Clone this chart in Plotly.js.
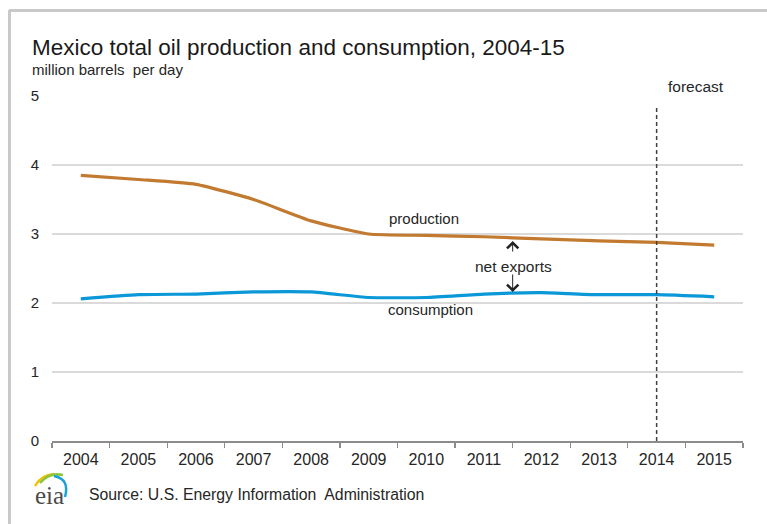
<!DOCTYPE html>
<html>
<head>
<meta charset="utf-8">
<script src="https://cdn.plot.ly/plotly-3.0.1.min.js"></script>
<style>html,body{margin:0;padding:0;background:#fff;}#chart{width:767px;height:524px;}</style>
</head>
<body>
<div id="chart"></div>
<script>
// ---- data ----
const years = ['2004','2005','2006','2007','2008','2009','2010','2011','2012','2013','2014','2015'];
const production = [3.85, 3.79, 3.72, 3.50, 3.19, 3.00, 2.98, 2.96, 2.93, 2.90, 2.88, 2.84];
const consumption = [2.06, 2.12, 2.13, 2.16, 2.16, 2.08, 2.08, 2.13, 2.15, 2.12, 2.12, 2.09];
const yTicks = [0, 1, 2, 3, 4, 5];
const forecastStart = '2014';

// ---- geometry helpers (pixels -> paper) ----
const W = 767, H = 524, ML = 52, MR = 24, MT = 96, MB = 83;
const PW = W - ML - MR, PH = H - MT - MB;
const px = x => (x - ML) / PW;
const py = y => (H - MB - y) / PH;
const FONT = 'Arial, "Liberation Sans", sans-serif';
const TXT = '#262626';

const traces = [
  {x: years, y: production, type: 'scatter', mode: 'lines', name: 'production',
   line: {color: '#C27A30', width: 3.2, shape: 'spline', smoothing: 0.5}, hoverinfo: 'skip'},
  {x: years, y: consumption, type: 'scatter', mode: 'lines', name: 'consumption',
   line: {color: '#0A98D8', width: 3.2, shape: 'spline', smoothing: 0.5}, hoverinfo: 'skip'}
];

function p(xpix, ypix){ return px(xpix).toFixed(4) + ',' + py(ypix).toFixed(4); }

const fIdx = years.indexOf(forecastStart);

const shapes = [
  // forecast divider
  {type: 'line', xref: 'x', yref: 'paper', x0: fIdx, x1: fIdx,
   y0: 0, y1: py(105), line: {color: '#404040', width: 1.5, dash: '4px,3px'}},
  // frame (top + left)
  {type: 'line', xref: 'paper', yref: 'paper', x0: px(9), x1: px(767), y0: py(10.5), y1: py(10.5),
   line: {color: '#c9c9c9', width: 3}},
  {type: 'line', xref: 'paper', yref: 'paper', x0: px(9.5), x1: px(9.5), y0: py(10), y1: py(524),
   line: {color: '#c9c9c9', width: 3}},
  // eia logo arcs
  {type: 'path', xref: 'paper', yref: 'paper', path: 'M' + p(35,486) + ' Q' + p(41,475) + ' ' + p(54,474),
   line: {color: '#F2C200', width: 2.5}},
  {type: 'path', xref: 'paper', yref: 'paper', path: 'M' + p(40,483) + ' Q' + p(49,472) + ' ' + p(63,475),
   line: {color: '#8CC63F', width: 2.5}},
  {type: 'path', xref: 'paper', yref: 'paper', path: 'M' + p(54,476) + ' Q' + p(70,479) + ' ' + p(65,497),
   line: {color: '#1AA1DB', width: 2.5}}
];

function ann(text, xpix, ypix, size, extra){
  return Object.assign({text: text, xref: 'paper', yref: 'paper', x: px(xpix), y: py(ypix),
    xanchor: 'center', yanchor: 'middle', showarrow: false,
    font: {family: FONT, size: size, color: TXT}}, extra || {});
}

const annotations = [
  ann('Mexico total oil production and consumption, 2004-15', 30, 47, 22.5, {xanchor: 'left', font: {family: FONT, size: 22.5, color: '#1a1a1a'}}),
  ann('million barrels  per day', 30, 69, 15, {xanchor: 'left'}),
  ann('production', 424, 218, 15),
  ann('consumption', 430, 309, 15),
  ann('net exports', 513, 266, 15.5),
  ann('forecast', 696, 86, 15.5),
  ann('Source: U.S. Energy Information  Administration', 87, 494, 15.8, {xanchor: 'left'}),
  ann('eia', 49, 495, 25, {font: {family: '"Liberation Serif", "Times New Roman", serif', size: 25, color: '#4a4a4a'}}),
  // net exports arrows
  {xref: 'x', yref: 'y', x: 7.5, y: (441 - 241) / 69, ax: 0, ay: 12, text: '', showarrow: true,
   arrowhead: 4, arrowsize: 2.2, arrowwidth: 1, arrowcolor: '#222'},
  {xref: 'x', yref: 'y', x: 7.5, y: (441 - 292) / 69, ax: 0, ay: -19, text: '', showarrow: true,
   arrowhead: 4, arrowsize: 2.2, arrowwidth: 1, arrowcolor: '#222'}
];

const layout = {
  width: W, height: H,
  margin: {l: ML, r: MR, t: MT, b: MB, pad: 0},
  paper_bgcolor: '#fff', plot_bgcolor: '#fff',
  showlegend: false,
  font: {family: FONT, color: TXT},
  xaxis: {type: 'category', range: [-0.5, 11.5], showgrid: false, zeroline: false,
    showline: true, linecolor: '#8c8c8c', linewidth: 1.5,
    ticks: 'outside', tickson: 'boundaries', ticklen: 5, tickcolor: '#8c8c8c', tickwidth: 1.2,
    ticklabelstandoff: 3,
    tickfont: {family: FONT, size: 16, color: TXT}, fixedrange: true},
  yaxis: {range: [0, 5], tickvals: yTicks, ticktext: yTicks.map(String),
    showgrid: true, gridcolor: '#dadada', gridwidth: 1.5, zeroline: false, showline: false,
    ticks: '', ticklabelstandoff: 12,
    tickfont: {family: FONT, size: 15, color: TXT}, fixedrange: true},
  shapes: shapes,
  annotations: annotations
};

Plotly.newPlot('chart', traces, layout, {displayModeBar: false, staticPlot: true});
</script>
</body>
</html>
